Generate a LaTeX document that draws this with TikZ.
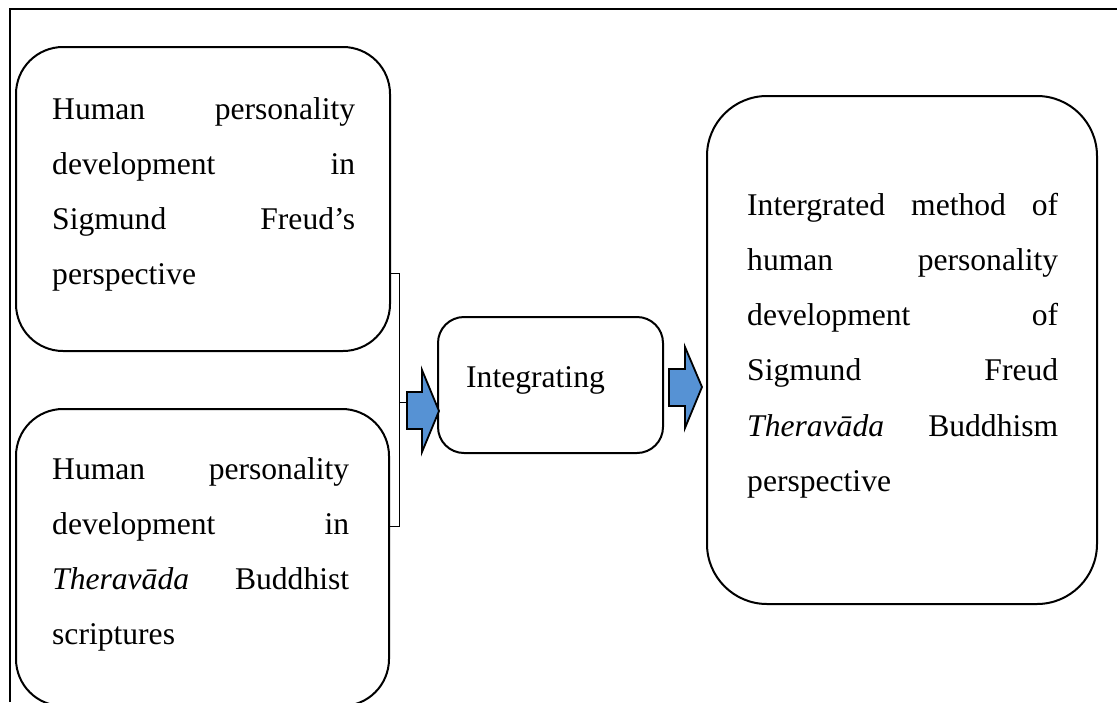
\documentclass[tikz,border=0pt]{standalone}
\usepackage{fontspec}
\setmainfont{Liberation Serif}
\definecolor{arrowblue}{RGB}{86,146,212}
\begin{document}
\begin{tikzpicture}[x=1pt,y=-1pt,
  frame/.style={line width=1.9pt},
  rbox/.style={draw, line width=2pt, inner sep=0pt},
  thin/.style={line width=0.8pt},
  blockarrow/.style={draw, line width=1.8pt, fill=arrowblue, line join=miter},
  txt/.style={inner sep=0pt, anchor=base west, align=left,
    font=\fontsize{31.6}{55.3}\selectfont}]
\useasboundingbox (0,0) rectangle (1117,702);
% outer frame (partially visible)
\draw[frame] (10,702) -- (10,9) -- (1117,9);
% boxes
\node[rbox, minimum width=374pt, minimum height=304pt, rounded corners=47pt] (b1) at (203,199) {};
\node[rbox, minimum width=373pt, minimum height=297pt, rounded corners=47pt] (b2) at (202.5,557.5) {};
\node[rbox, minimum width=225pt, minimum height=136pt, rounded corners=26pt] (mid) at (550.5,385) {};
\node[rbox, minimum width=390pt, minimum height=508pt, rounded corners=60pt] (res) at (902,350) {};
% texts
\node[txt, text width=303pt] (t1) at (52,119) {Human\hfill personality\\development\hfill in\\Sigmund\hfill Freud’s\\perspective};
\node[txt, text width=297pt] (t2) at (52,479) {Human\hfill personality\\development\hfill in\\\textit{Theravāda}\hfill Buddhist\\scriptures};
\node[txt] (t3) at (466,387) {Integrating};
\node[txt, text width=311pt] (t4) at (747,215) {Intergrated\hfill method\hfill of\\human\hfill personality\\development\hfill of\\Sigmund\hfill Freud\\\textit{Theravāda}\hfill Buddhism\\perspective};
% bracket
\coordinate (bt) at (399,273);
\coordinate (bb) at (399,526);
\coordinate (bm) at (399,402);
\coordinate (a1) at (407,402);
\draw[thin] (b1.east |- bt) -- (bt) -- (bb) -- (b2.east |- bb);
\draw[thin] (bm) -- (a1);
% block arrows
\draw[blockarrow] (407,392) -- (422,392) -- (422,370) -- (439,411) -- (422,452) -- (422,429) -- (407,429) -- cycle;
\draw[blockarrow] (669,369) -- (685,369) -- (685,347) -- (702,387) -- (685,428) -- (685,406) -- (669,406) -- cycle;
\end{tikzpicture}
\end{document}
